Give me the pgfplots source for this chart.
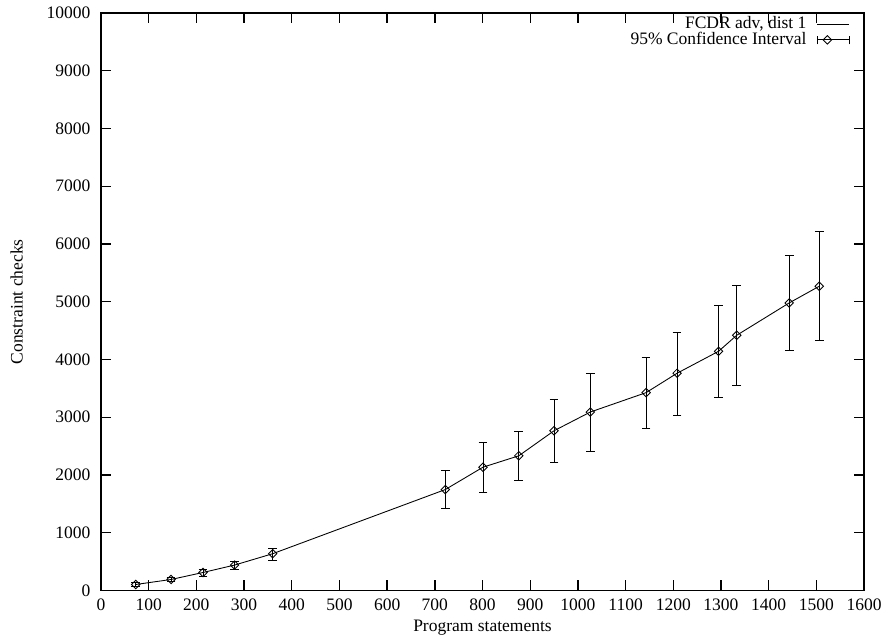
\documentclass[border=0pt]{standalone}
\usepackage{fontspec}
\setmainfont{Liberation Serif}
\usepackage{pgfplots}
\pgfplotsset{compat=1.18}
\usepackage{pgfplotstable}

\pgfplotstableread{
x     y     ep   em
73    104   30   30
147   191   30   30
214   312   60   60
280   440   70   75
360   637   92   116
722   1748  323  319
801   2135  434  445
876   2332  428  428
950   2766  538  549
1026  3090  677  677
1143  3426  614  619
1208  3762  712  724
1295  4142  792  797
1333  4419  867  872
1443  4979  821  820
1506  5268  942  935
}\fcdr

\begin{document}
\begin{tikzpicture}
\begin{axis}[
  name=main,
  scale only axis,
  width=436pt, height=330pt,
  xmin=0, xmax=1600, ymin=0, ymax=10000,
  xtick distance=100, ytick distance=1000,
  scaled ticks=false,
  /pgf/number format/assume math mode=true,
  /pgf/number format/1000 sep={},
  tick align=inside,
  major tick length=6pt,
  axis line style={line width=0.8pt},
  every tick/.style={line width=0.8pt, black},
  yticklabel style={xshift=-2.5pt},
  xticklabel style={yshift=-1.5pt},
  xlabel={Program statements},
  ylabel={Constraint checks},
  xlabel style={yshift=1.6pt},
  ylabel style={yshift=6.8pt},
  legend plot pos=right,
  legend cell align=right,
  legend style={draw=none, fill=none, inner sep=0pt, at={(1,1)}, anchor=north east,
    xshift=-8pt, yshift=0pt, row sep=-3.5pt, column sep=4pt, font=\normalsize},
]
\addplot[black, line width=0.5pt, mark=none,
  legend image code/.code={\draw[line width=0.5pt] (0cm,0cm) -- (0.64cm,0cm);}]
  table[x=x, y=y] {\fcdr};
\addlegendentry{FCDR adv, dist 1}
\addplot[black, line width=0.5pt, only marks,
  mark=square, mark size=1.7pt, mark options={rotate=45},
  error bars/.cd, y dir=both, y explicit,
  error bar style={line width=0.5pt},
  error mark options={rotate=90, mark size=2.5pt, line width=0.5pt},
  /pgfplots/legend image code/.code={
    \draw[line width=0.5pt] (0cm,0cm) -- (0.64cm,0cm)
      (0cm,-2.5pt) -- (0cm,2.5pt) (0.64cm,-2.5pt) -- (0.64cm,2.5pt);
    \draw[line width=0.5pt, mark=square, mark size=1.7pt, mark options={rotate=45, fill=white}]
      plot coordinates {(0.2cm,0cm)};
  },
  ] table[x=x, y=y, y error plus=ep, y error minus=em] {\fcdr};
\addlegendentry{95\% Confidence Interval}
\end{axis}
\pgfresetboundingbox
\path[use as bounding box] ([xshift=-57.7pt,yshift=-27.4pt]main.south west)
  rectangle ([xshift=15.4pt,yshift=7.4pt]main.north east);
\end{tikzpicture}
\end{document}
